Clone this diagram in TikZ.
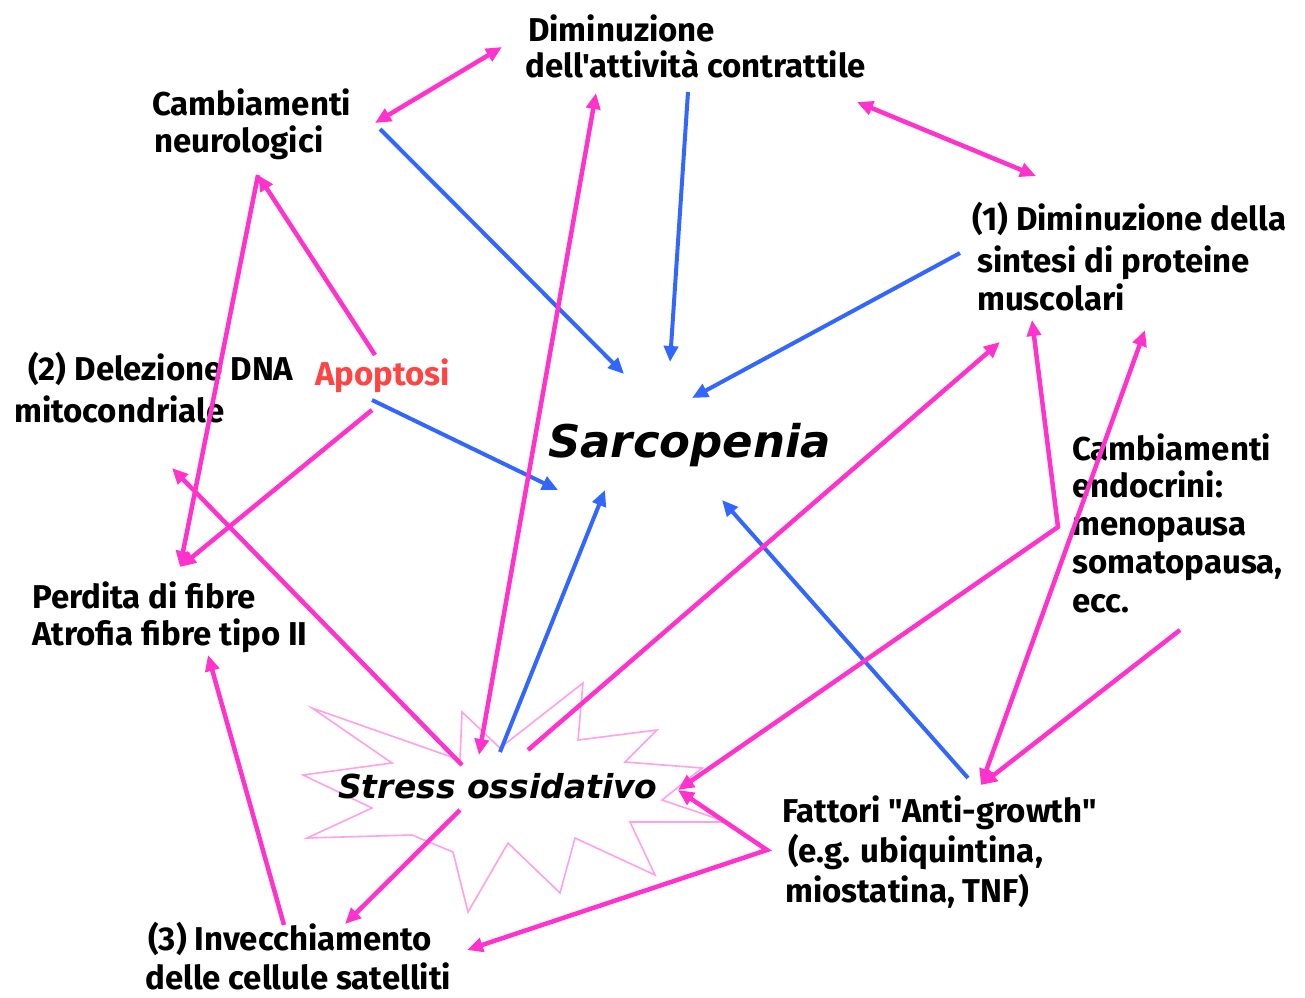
\documentclass[tikz,border=0pt]{standalone}
\usepackage{fontspec}
\setmainfont{Fira Sans}[Ligatures=TeXOff]
\newfontfamily\italfont{DejaVu Sans}
\usetikzlibrary{arrows.meta}
\definecolor{pinkl}{HTML}{FF33CC}
\definecolor{bluel}{HTML}{3366FF}
\definecolor{starl}{HTML}{FFA0E8}
\definecolor{apored}{HTML}{FF4444}
\begin{document}
\begin{tikzpicture}[x=1pt,y=-1pt,
  >={Triangle[length=16pt,width=14pt]},
  lbl/.style={anchor=base west, inner sep=0pt, font=\fontsize{33}{38}\selectfont\bfseries},
  big/.style={anchor=base west, inner sep=0pt, font=\fontsize{45}{50}\selectfont\italfont\bfseries\itshape},
  mid/.style={anchor=base west, inner sep=0pt, font=\fontsize{33}{38}\selectfont\italfont\bfseries\itshape},
  pk/.style={draw=pinkl, line width=4.5pt, ->},
  pkk/.style={draw=pinkl, line width=4.5pt, <->},
  bl/.style={draw=bluel, line width=4pt, ->},
  starline/.style={draw=starl, line width=1.6pt, line join=miter}
]
\useasboundingbox[fill=white] (0,0) rectangle (1305,997);

% explosion outline
\draw[starline] (312,708) -- (460,760) -- (462,712) -- (500,748) -- (583,683) -- (578,740)
  -- (657,730) -- (625,762) -- (702,768) -- (662,800) -- (727,822) -- (630,822)
  -- (655,875) -- (575,838) -- (560,893) -- (508,843) -- (468,912) -- (453,852)
  -- (412,835) -- (307,838) -- (372,808) -- (303,775) -- (392,763) -- cycle;

% labels
\node[lbl] (dim1) at (528,41) {Diminuzione};
\node[lbl] (dim2) at (525,77) {dell'attività contrattile};
\node[lbl] (neu1) at (152,115) {Cambiamenti};
\node[lbl] (neu2) at (154,152) {neurologici};
\node[lbl] (sin1) at (972,230) {(1) Diminuzione della};
\node[lbl] (sin2) at (977,272) {sintesi di proteine};
\node[lbl] (sin3) at (977,310) {muscolari};
\node[lbl] (del1) at (28,380) {(2) Delezione DNA};
\node[lbl] (del2) at (14,422) {mitocondriale};
\node[lbl, text=apored] (apo) at (315,385) {Apoptosi};
\node[big] (sarc) at (548,457) {Sarcopenia};
\node[lbl] (end1) at (1072,460) {Cambiamenti};
\node[lbl] (end2) at (1072,497) {endocrini:};
\node[lbl] (end3) at (1072,535) {menopausa};
\node[lbl] (end4) at (1072,573) {somatopausa,};
\node[lbl] (end5) at (1072,612) {ecc.};
\node[lbl] (per1) at (32,608) {Perdita di fibre};
\node[lbl] (per2) at (32,645) {Atrofia fibre tipo II};
\node[mid] (stress) at (338,798) {Stress ossidativo};
\node[lbl] (fat1) at (782,822) {Fattori "Anti-growth"};
\node[lbl] (fat2) at (788,862) {(e.g. ubiquintina,};
\node[lbl] (fat3) at (785,902) {miostatina, TNF)};
\node[lbl] (inv1) at (148,950) {(3) Invecchiamento};
\node[lbl] (inv2) at (145,989) {delle cellule satelliti};

% connector end points
\coordinate (neuR) at (375,123);
\coordinate (dimL) at (502,47);
\coordinate (neuB) at (380,129);
\coordinate (sarcNW) at (624,374);
\coordinate (dimB) at (688,92);
\coordinate (sarcN) at (670,362);
\coordinate (dimR) at (857,102);
\coordinate (sinT) at (1036,176);
\coordinate (sinL) at (960,253);
\coordinate (sarcNE) at (692,398);
\coordinate (dimBL) at (596,93);
\coordinate (stT) at (479,755);
\coordinate (stTB) at (500,752);
\coordinate (sarcS) at (605,490);
\coordinate (stTR) at (528,750);
\coordinate (sinBL) at (1000,342);
\coordinate (fatT) at (968,778);
\coordinate (sarcSE) at (722,500);
\coordinate (sinB) at (1032,320);
\coordinate (endL) at (1058,527);
\coordinate (stR) at (678,790);
\coordinate (sinBR) at (1145,330);
\coordinate (fatTR) at (981,785);
\coordinate (endB) at (1180,630);
\coordinate (fatL) at (767,850);
\coordinate (invR) at (467,950);
\coordinate (stBL) at (460,810);
\coordinate (invT) at (345,924);
\coordinate (invTL) at (284,925);
\coordinate (perT) at (208,655);
\coordinate (stL) at (462,765);
\coordinate (delB) at (172,468);
\coordinate (apoT) at (375,355);
\coordinate (neuBot) at (258,175);
\coordinate (perTL) at (180,567);
\coordinate (apoB) at (372,410);
\coordinate (apoR) at (372,400);
\coordinate (sarcW) at (558,490);

% blue connectors
\draw[bl] (neuB) -- (sarcNW);
\draw[bl] (dimB) -- (sarcN);
\draw[bl] (sinL) -- (sarcNE);
\draw[bl] (stTB) -- (sarcS);
\draw[bl] (fatT) -- (sarcSE);
\draw[bl] (apoR) -- (sarcW);

% pink connectors
\draw[pkk] (neuR) -- (dimL);
\draw[pkk] (dimR) -- (sinT);
\draw[pkk] (dimBL) -- (stT);
\draw[pk] (stTR) -- (sinBL);
\draw[pkk] (sinB) -- (endL) -- (stR);
\draw[pkk] (sinBR) -- (fatTR);
\draw[pk] (endB) -- (fatTR);
\draw[pkk] (stR) -- (fatL) -- (invR);
\draw[pk] (stBL) -- (invT);
\draw[pk] (invTL) -- (perT);
\draw[pk] (stL) -- (delB);
\draw[pk] (apoT) -- (neuBot);
\draw[pk] (neuBot) -- (perTL);
\draw[pk] (apoB) -- (perTL);
\end{tikzpicture}
\end{document}
